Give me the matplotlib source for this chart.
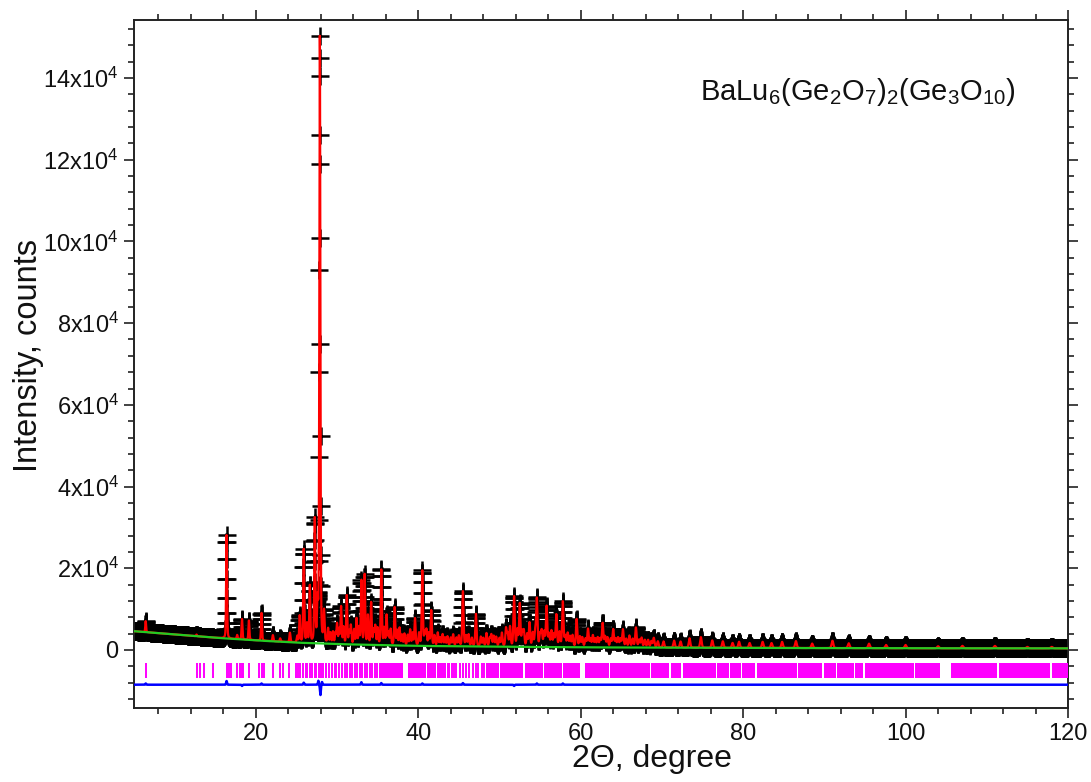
import numpy as np
import matplotlib
matplotlib.use("Agg")
import matplotlib.pyplot as plt
from matplotlib.ticker import FixedLocator, MultipleLocator

plt.rcParams['font.family'] = ['Liberation Sans', 'DejaVu Sans']
plt.rcParams['mathtext.fontset'] = 'custom'
plt.rcParams['mathtext.rm'] = 'Liberation Sans'
plt.rcParams['mathtext.it'] = 'Liberation Sans:italic'
plt.rcParams['mathtext.default'] = 'regular'

# ---------------- data ----------------
# scan range and step (degrees 2theta)
two_theta_range = [5.0, 120.0]
scan_step = 0.02

# background knots (2theta, counts)
bg_x = [5, 10, 15, 20, 25, 30, 35, 40, 50, 60, 80, 100, 120]
bg_y = [4600, 3800, 3000, 2350, 1800, 1450, 1200, 1000, 800, 650, 500, 420, 400]

# strong reflections of the calculated profile: position and net height (counts)
peak_pos = [6.44, 12.7, 16.4, 17.7, 18.3, 19.15, 20.7, 22.1, 23.0, 24.2, 25.1, 25.4,
            25.9, 26.3, 26.65, 27.26, 27.6, 27.883, 28.4, 28.9, 29.5, 30.0, 30.5, 31.2,
            31.7, 32.4, 33.0, 33.4, 33.8, 34.2, 34.7, 35.45, 36.1, 36.6, 37.1, 37.7,
            38.3, 39.0, 39.6, 40.5, 41.0, 41.6, 42.4, 43.0, 43.6, 44.3, 45.5, 46.2,
            47.1, 47.7, 48.4, 49.0, 49.6, 50.3, 50.8, 51.3, 51.8, 52.5, 53.0, 53.7,
            54.1, 54.6, 55.2, 55.8, 56.4, 57.0, 57.8, 58.4, 59.0, 59.5, 60.2, 60.9,
            61.5, 62.1, 62.7, 63.3, 64.0, 64.6, 65.2, 66.0, 66.8, 67.5, 68.3, 69.0,
            70.2, 71.5, 72.3, 73.4, 74.8, 76.2, 77.5, 78.7, 79.5, 80.8, 82.4, 83.5,
            84.8, 86.5, 88.5, 91.0, 93.0, 95.5, 97.6, 100.0, 104.0, 107.0, 111.0,
            115.0, 118.0]
peak_int = [2700, 400, 25300, 1000, 5000, 4800, 6800, 1500, 800, 2300, 1500, 6500,
            22800, 4500, 14000, 30000, 9000, 148500, 7500, 3500, 2800, 4800, 9000, 11800,
            4500, 6200, 15500, 17000, 7000, 10200, 4500, 18500, 7200, 3800, 9200, 4200,
            2800, 3800, 6600, 18300, 3800, 8600, 3200, 2800, 2300, 2800, 13400, 2800,
            7900, 2300, 3200, 2800, 2300, 3300, 4400, 4800, 12200, 10400, 3800, 5800,
            3300, 11600, 3800, 9800, 3800, 7800, 11000, 3300, 2800, 6800, 2300, 4400,
            2800, 2300, 5800, 2300, 4300, 2300, 4300, 2800, 4800, 2300, 1800, 2300,
            1500, 1700, 1500, 2300, 2600, 1800, 1600, 1200, 1500, 1200, 1500, 1200,
            1500, 1700, 1100, 1800, 1200, 1100, 800, 800, 500, 600, 600,
            350, 350]

# weak reflections filling the 28-70 degree region
minor_pos = [29.2, 29.8, 30.25, 30.8, 31.5, 32.1, 32.7, 34.5, 35.0, 35.8, 36.35, 37.4,
             38.0, 38.7, 39.3, 40.1, 40.8, 41.3, 42.0, 42.7, 43.3, 44.0, 44.7, 45.0,
             45.9, 46.6, 48.0, 48.8, 49.3, 50.0, 51.0, 52.2, 52.8, 53.4, 54.4, 55.0,
             55.5, 56.1, 56.7, 57.4, 58.1, 58.7, 59.9, 60.6, 61.2, 61.8, 62.4, 63.0,
             63.7, 64.3, 64.9, 65.6, 66.4, 67.2, 67.9, 68.7, 69.5]
minor_int = [2500, 2500, 3500, 4000, 3000, 3500, 4000, 3500, 4000, 4000, 3000, 3500,
             2500, 2500, 3000, 3000, 3000, 3000, 2500, 2000, 2000, 2000, 2000, 2500,
             2500, 2000, 2000, 2000, 2500, 2000, 3000, 4000, 3500, 3000, 3500, 3000,
             3500, 3000, 3000, 3500, 2500, 2500, 2500, 2000, 2000, 2000, 2000, 2500,
             2000, 2000, 2000, 2000, 2000, 1800, 1800, 1500, 1500]

# difference curve: offset and local misfit features (position, amplitude)
diff_offset = -8500
diff_pos = [6.44, 16.4, 18.3, 20.7, 25.9, 27.7, 27.95, 28.15, 33.0, 35.45, 40.5,
            45.5, 51.8, 54.6, 57.8]
diff_amp = [300, 900, -300, 300, 500, 1000, -2600, 700, 600, 400, 300, 400, -300, 300, 300]

# Bragg reflection markers: isolated ticks and dense blocks
bragg_single = [6.44, 12.7, 13.1, 13.65, 14.75, 16.4, 16.7, 16.9, 17.7, 18.0, 18.25,
                18.45, 19.15, 20.45, 20.75, 20.95, 22.1, 23.0, 23.35, 24.1, 24.89,
                25.21, 25.50, 25.83, 26.12, 26.36, 26.65, 26.93, 27.26, 27.47, 27.76,
                28.0, 28.28, 28.58, 28.99, 29.32, 29.72, 29.93, 30.25, 30.62, 30.95,
                31.24, 31.57, 31.90, 32.18, 32.51, 32.81, 33.09, 33.41, 33.70, 34.03,
                34.31, 34.67, 34.88, 44.1, 44.4, 44.7, 45.2, 45.5, 45.9, 46.3, 46.7,
                47.1, 47.4, 47.8, 48.1]
bragg_blocks = [(35.2, 38.1), (38.7, 40.95), (41.1, 42.15), (42.3, 43.4), (43.55, 43.9),
                (48.4, 49.9), (50.05, 52.9), (53.2, 55.3), (55.45, 57.7), (57.85, 59.9),
                (60.5, 63.5), (63.65, 68.5), (68.6, 70.9), (71.1, 72.4), (72.6, 76.6),
                (76.8, 78.2), (78.4, 79.7), (79.9, 81.5), (81.7, 86.6), (86.8, 89.7),
                (89.9, 91.4), (91.6, 93.6), (93.8, 94.8), (95.0, 101.0), (101.2, 104.3),
                (105.6, 111.3), (111.5, 117.8), (118.0, 120.0)]
bragg_y = (-6900, -3300)

y_ticks = [0, 20000, 40000, 60000, 80000, 100000, 120000, 140000]
y_ticklabels = ['0'] + [r'$%dx10^{4}$' % (v // 10000) for v in y_ticks[1:]]
x_ticks = [20, 40, 60, 80, 100, 120]

title_text = r'BaLu$_6$(Ge$_2$O$_7$)$_2$(Ge$_3$O$_{10}$)'

# ---------------- build profiles ----------------
tt = np.arange(two_theta_range[0], two_theta_range[1] + scan_step / 2, scan_step)
background = np.interp(tt, bg_x, bg_y)


def pvoigt(x, x0, fwhm, eta=0.3):
    g = np.exp(-4 * np.log(2) * ((x - x0) / fwhm) ** 2)
    l = 1.0 / (1 + 4 * ((x - x0) / fwhm) ** 2)
    return eta * l + (1 - eta) * g


calc = background.copy()
for p, h in zip(peak_pos + minor_pos, peak_int + minor_int):
    calc += h * pvoigt(tt, p, 0.11 + 0.0015 * p)
obs = calc

diff = np.full_like(tt, diff_offset, dtype=float)
for p, a in zip(diff_pos, diff_amp):
    diff += a * pvoigt(tt, p, 0.12, eta=0.2)

# ---------------- figure ----------------
fig = plt.figure(figsize=(10.91, 7.82), dpi=100)
ax = fig.add_axes([134 / 1091, 1 - 708 / 782, 934 / 1091, 688 / 782])

ax.plot(tt, obs, linestyle='none', marker='+', markersize=13.5, markeredgewidth=1.8,
        color='black', zorder=2)
ax.plot(tt, calc, color='#ff0000', lw=1.6, zorder=3)
ax.plot(tt, background, color='#22cc22', lw=1.6, zorder=4)
ax.vlines(bragg_single, bragg_y[0], bragg_y[1], color='#ff00ff', lw=1.4, zorder=3)
ax.broken_barh([(a, b - a) for a, b in bragg_blocks], (bragg_y[0], bragg_y[1] - bragg_y[0]),
               facecolors='#ff00ff', edgecolor='none', zorder=3)
ax.plot(tt, diff, color='#0000ff', lw=1.8, zorder=3)

ax.set_xlim(5, 120)
ax.set_ylim(-14200, 154200)

ax.xaxis.set_major_locator(FixedLocator(x_ticks))
ax.xaxis.set_minor_locator(MultipleLocator(4))
ax.yaxis.set_major_locator(FixedLocator(y_ticks))
ax.set_yticklabels(y_ticklabels)
ax.yaxis.set_minor_locator(MultipleLocator(4000))

ax.tick_params(which='both', direction='out', top=True, right=True, width=1.2,
               color='#222222', labelsize=17, labelcolor='#111111')
ax.tick_params(which='major', length=7, pad=4)
ax.tick_params(which='minor', length=4)
for s in ax.spines.values():
    s.set_linewidth(1.4)
    s.set_color('#222222')

ax.set_ylabel('Intensity, counts', fontsize=23.5, color='#111111')
ax.yaxis.set_label_coords(-0.096, 0.513)
ax.set_xlabel('2\u0398, degree', fontsize=23, color='#111111')
ax.xaxis.set_label_coords(0.555, -0.052)

ax.text(94.2, 136600, title_text, fontsize=21, ha='center', va='center', color='#111111')

fig.savefig('out.png', dpi=100)
